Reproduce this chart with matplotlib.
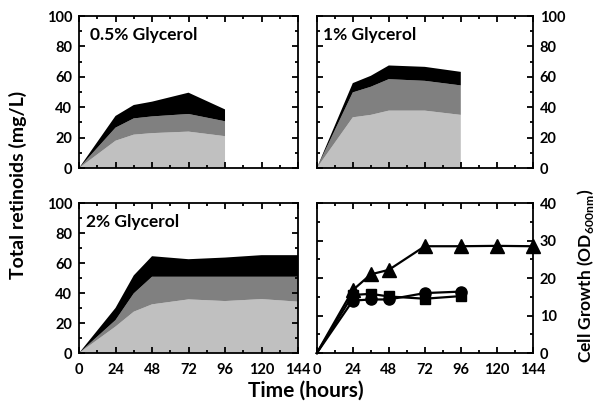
import matplotlib
matplotlib.use('Agg')
import matplotlib.pyplot as plt
import numpy as np

plt.rcParams['font.family'] = ['Lato', 'DejaVu Sans']
plt.rcParams['font.weight'] = 'bold'
plt.rcParams['mathtext.fontset'] = 'custom'
plt.rcParams['mathtext.rm'] = 'Lato'

# retinoid layers (bottom light grey, middle grey, top black), mg/L
t_short = [0, 24, 36, 48, 72, 96]
t_long = [0, 24, 36, 48, 72, 96, 120, 144]

g05_light = [0, 18, 22, 23, 24, 21]
g05_mid = [0, 8.6, 10.7, 11, 11.6, 9.8]
g05_black = [0, 7.7, 8.8, 9.7, 14, 7.8]

g1_light = [0, 33.4, 35, 37.8, 37.8, 35]
g1_mid = [0, 16.4, 18.5, 20.7, 19.6, 19.4]
g1_black = [0, 6.1, 7.2, 9, 9.2, 8.9]

g2_light = [0, 17.7, 27.6, 32.5, 35.8, 34.7, 36, 34.3]
g2_mid = [0, 4.3, 12.2, 18.4, 15.1, 16.2, 14.9, 16.6]
g2_black = [0, 8.1, 12, 13.7, 11.7, 12.8, 14.4, 14.4]

# cell growth OD600
od_triangle = [0, 16.8, 21, 22.2, 28.5, 28.5, 28.6, 28.5]
od_square = [0, 15.5, 15.8, 15.1, 14.5, 15.2]
od_circle = [0, 14, 14.3, 14.3, 16, 16.4]

colors = ['#c0c0c0', '#808080', '#000000']

fig = plt.figure(figsize=(6, 4.12), dpi=100)
ax1 = fig.add_axes([0.1317, 0.592, 0.365, 0.369])
ax2 = fig.add_axes([0.528, 0.592, 0.36, 0.369])
ax3 = fig.add_axes([0.1317, 0.143, 0.365, 0.364])
ax4 = fig.add_axes([0.528, 0.143, 0.36, 0.364])


def style(ax, ymax, ymaj, ymin):
    ax.set_xlim(0, 144)
    ax.set_ylim(0, ymax)
    ax.set_xticks(np.arange(0, 145, 24))
    ax.set_xticks(np.arange(0, 145, 12), minor=True)
    ax.set_yticks(np.arange(0, ymax + 1, ymaj))
    ax.set_yticks(np.arange(0, ymax + 1, ymin), minor=True)
    ax.tick_params(which='both', direction='in', top=True, right=True, width=1.3, labelsize=10.5)
    ax.tick_params(which='major', length=4.5)
    ax.tick_params(which='minor', length=2.5)
    ax.tick_params(axis='x', pad=7)
    ax.tick_params(axis='y', pad=5)
    for s in ax.spines.values():
        s.set_linewidth(1.3)
    for lab in ax.get_xticklabels() + ax.get_yticklabels():
        lab.set_fontweight('bold')


ax1.stackplot(t_short, g05_light, g05_mid, g05_black, colors=colors, linewidth=0)
ax2.stackplot(t_short, g1_light, g1_mid, g1_black, colors=colors, linewidth=0)
ax3.stackplot(t_long, g2_light, g2_mid, g2_black, colors=colors, linewidth=0)

mk = slice(1, None)
ax4.plot(t_long, od_triangle, 'k-^', markersize=9.5, linewidth=1.6, markevery=mk, clip_on=False, zorder=5)
ax4.plot(t_short, od_square, 'k-s', markersize=7.5, linewidth=1.6, markevery=mk, clip_on=False, zorder=5)
ax4.plot(t_short, od_circle, 'k-o', markersize=8, linewidth=1.6, markevery=mk, clip_on=False, zorder=5)

for ax in (ax1, ax2, ax3):
    style(ax, 100, 20, 10)
style(ax4, 40, 10, 5)

ax1.tick_params(labelbottom=False)
ax2.tick_params(labelbottom=False, labelleft=False, labelright=True)
ax4.tick_params(labelleft=False, labelright=True)

ax1.text(0.05, 0.93, '0.5% Glycerol', transform=ax1.transAxes, ha='left', va='top',
         fontsize=12.5, fontweight='bold')
ax2.text(0.03, 0.93, '1% Glycerol', transform=ax2.transAxes, ha='left', va='top',
         fontsize=12.5, fontweight='bold')
ax3.text(0.03, 0.93, '2% Glycerol', transform=ax3.transAxes, ha='left', va='top',
         fontsize=12.5, fontweight='bold')

fig.text(0.03, 0.55, 'Total retinoids (mg/L)', rotation=90, ha='center', va='center',
         fontsize=14, fontweight='bold')
fig.text(0.51, 0.052, 'Time (hours)', ha='center', va='center', fontsize=15, fontweight='bold')
fig.text(0.975, 0.33, r'Cell Growth (OD$_{\rm 600nm}$)', rotation=90, ha='center', va='center',
         fontsize=12.5, fontweight='bold')

plt.savefig('out.png', dpi=100)
plt.close(fig)
